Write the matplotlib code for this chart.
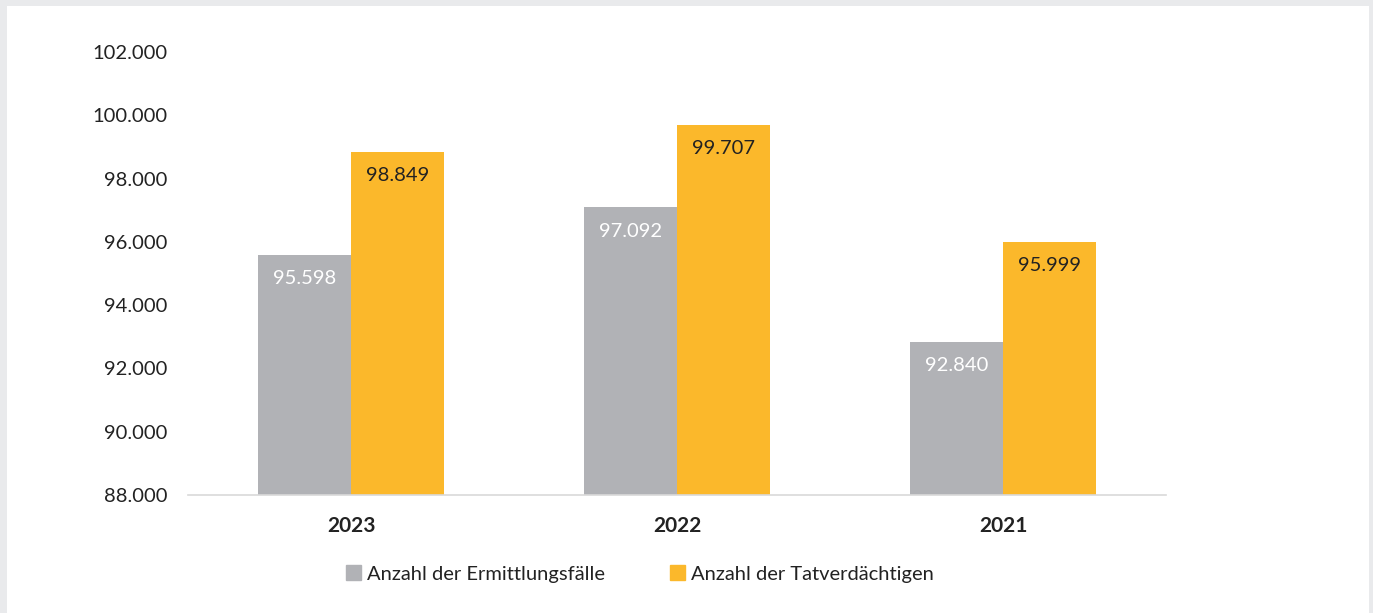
import matplotlib.pyplot as plt
import numpy as np
from matplotlib.patches import Patch

jahre = ['2023', '2022', '2021']
ermittlungsfaelle = [95598, 97092, 92840]
tatverdaechtige = [98849, 99707, 95999]
farbe_grau = '#B1B2B6'
farbe_orange = '#FBB82B'

plt.rcParams['font.family'] = ['Lato', 'DejaVu Sans']

fig = plt.figure(figsize=(13.73, 6.13), dpi=100)
fig.patch.set_facecolor('#E9EAEC')
# weisses Panel
fig.add_artist(plt.Rectangle((7 / 1373, 0), 1362 / 1373, 1 - 6 / 613,
                             transform=fig.transFigure, facecolor='white',
                             edgecolor='none', zorder=0))

ax = fig.add_axes([188 / 1373, 1 - 495 / 613, 978 / 1373, (495 - 52) / 613])
ax.set_facecolor('none')

x = np.arange(len(jahre))
b = 0.285
r1 = ax.bar(x - b / 2, ermittlungsfaelle, b, color=farbe_grau, zorder=2)
r2 = ax.bar(x + b / 2, tatverdaechtige, b, color=farbe_orange, zorder=2)

ax.set_ylim(88000, 102000)
ax.set_xlim(-0.5, 2.5)
ticks = np.arange(88000, 102001, 2000)
ax.set_yticks(ticks)
ax.set_yticklabels([f'{t:,}'.replace(',', '.') for t in ticks], fontsize=14.5, color='#222222')
ax.set_xticks(x)
ax.set_xticklabels(jahre, fontsize=15, fontweight='bold', color='#222222')
ax.tick_params(axis='both', length=0)
ax.tick_params(axis='y', pad=15)
ax.tick_params(axis='x', pad=15)

for s in ['top', 'right', 'left']:
    ax.spines[s].set_visible(False)
ax.spines['bottom'].set_color('#D9D9D9')
ax.spines['bottom'].set_linewidth(1.2)

for rects, werte, fc in [(r1, ermittlungsfaelle, 'white'), (r2, tatverdaechtige, '#222222')]:
    for rect, w in zip(rects, werte):
        ax.annotate(f'{w:,}'.replace(',', '.'),
                    (rect.get_x() + rect.get_width() / 2, w),
                    xytext=(0, -24), textcoords='offset pixels',
                    ha='center', va='center', fontsize=14.5, color=fc, zorder=3)

handles = [Patch(color=farbe_grau, label='Anzahl der Ermittlungsfälle'),
           Patch(color=farbe_orange, label='Anzahl der Tatverdächtigen')]
fig.legend(handles=handles, loc='center', bbox_to_anchor=(640 / 1373, 1 - 574 / 613),
           ncol=2, frameon=False, fontsize=14.5, handlelength=0.75, handleheight=0.75,
           handletextpad=0.3, columnspacing=3.2, labelcolor='#222222')

fig.savefig('out.png', dpi=100)
